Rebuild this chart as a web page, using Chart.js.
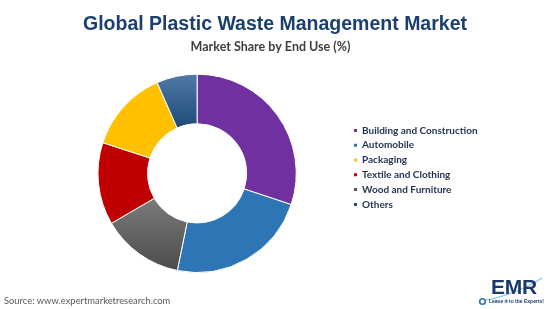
<!DOCTYPE html>
<html>
<head>
<meta charset="utf-8">
<script src="https://cdn.jsdelivr.net/npm/chart.js@4.4.1/dist/chart.umd.min.js"></script>
<style>
  html, body { margin: 0; padding: 0; background: #ffffff; }
  #wrap { position: relative; width: 550px; height: 309px; overflow: hidden; }
  #c { position: absolute; left: 0; top: 0; }
  #source { position: absolute; left: 4px; top: 295px; font: 9.4px Lato, "Open Sans", sans-serif; color: #595959; white-space: nowrap; }
  #logo { position: absolute; left: 478px; top: 276px; width: 72px; height: 33px; }
  #emr { position: absolute; left: 13px; top: -1px; font: bold 21px "Liberation Sans", Arial, sans-serif; color: #1B3A6B; letter-spacing: -0.3px; line-height: 24px; }
  #tag { position: absolute; left: 11px; top: 22px; font: bold 5px "Liberation Sans", Arial, sans-serif; color: #1B3A6B; white-space: nowrap; }
</style>
</head>
<body>
<div id="wrap">
  <canvas id="c" width="550" height="309"></canvas>
  <div id="source">Source: www.expertmarketresearch.com</div>
  <div id="logo">
    <svg width="72" height="33" style="position:absolute;left:0;top:0">
      <path d="M4 25 Q 40 18 64 2" stroke="#8fc3ea" stroke-width="1.2" fill="none"/>
      <circle cx="4.5" cy="25.5" r="2.8" stroke="#2E75B6" stroke-width="1.6" fill="#ffffff"/>
    </svg>
    <div id="emr">EMR</div>
    <div id="tag">Leave it to the Experts!</div>
  </div>
</div>
<script>
// ---- data ----
const categories = ['Building and Construction', 'Automobile', 'Wood and Furniture', 'Textile and Clothing', 'Packaging', 'Others'];
const shares = [30.1, 23.1, 13.4, 13.4, 13.4, 6.6];
const legendOrder = ['Building and Construction', 'Automobile', 'Packaging', 'Textile and Clothing', 'Wood and Furniture', 'Others'];
const titleText = 'Global Plastic Waste Management Market';
const subtitleText = 'Market Share by End Use (%)';

// ---- styles ----
const solidColors = ['#7030A0', '#2E75B6', '#666666', '#C00000', '#FFC000', '#2F5F8F'];
const gradientStops = {
  2: [[0.6, '#7e7e7e'], [1, '#4a4a4a']],
  5: [[0, '#5079a6'], [0.27, '#1E4B78']]
};

const legendFont = { family: 'Lato', size: 10, weight: 'bold' };
const legendBox = 3;
const legendPad = 4.8;
const legendBoxLeft = 354;
const padLeft = 45;

// measure widest legend label to place the legend
const mctx = document.createElement('canvas').getContext('2d');
mctx.font = 'bold ' + legendFont.size + 'px ' + legendFont.family;
let maxW = 0;
categories.forEach(t => { maxW = Math.max(maxW, mctx.measureText(t).width); });
const legendWidth = legendPad + legendBox + legendFont.size / 2 + maxW + 10;
const padRight = 550 - (legendBoxLeft - legendPad) - legendWidth;

function sliceColor(context) {
  const i = context.dataIndex;
  const chart = context.chart;
  const area = chart.chartArea;
  if (!area || !gradientStops[i]) return solidColors[i];
  const g = chart.ctx.createLinearGradient(0, area.top, 0, area.bottom);
  gradientStops[i].forEach(s => g.addColorStop(s[0], s[1]));
  return g;
}

// center the title across the whole canvas, subtitle slightly left (as in the reference)
const headerCenter = {
  id: 'headerCenter',
  afterLayout(chart) {
    chart.boxes.forEach(b => {
      if (b.position !== 'top' || !b.options || b.options.text === undefined) return;
      const half = b.options.text === titleText ? 275 : 270.5;
      b.left = half - 275; b.right = half + 275; b.width = 550;
    });
  }
};

new Chart(document.getElementById('c'), {
  type: 'doughnut',
  data: {
    labels: categories,
    datasets: [{
      data: shares,
      backgroundColor: sliceColor,
      borderColor: '#ffffff',
      borderWidth: 1
    }]
  },
  plugins: [headerCenter],
  options: {
    responsive: false,
    animation: false,
    cutout: '50%',
    layout: { padding: { left: padLeft, right: padRight, top: 0, bottom: 36 } },
    plugins: {
      tooltip: { enabled: false },
      title: {
        display: true,
        text: titleText,
        color: '#1B3F6F',
        font: { family: 'Liberation Sans', size: 19.5, weight: 'bold', lineHeight: 1.2 },
        padding: { top: 12.6, bottom: 0 }
      },
      subtitle: {
        display: true,
        text: subtitleText,
        color: '#3F3F3F',
        font: { family: 'Lato', size: 12.5, weight: 'bold', lineHeight: 1.2 },
        padding: { top: 3.6, bottom: 19.1 }
      },
      legend: {
        display: true,
        position: 'right',
        align: 'start',
        fullSize: false,
        title: { display: true, text: '', font: { size: 12, lineHeight: 1.2 }, padding: { top: 32.5, bottom: 0 } },
        labels: {
          font: legendFont,
          color: '#1F3050',
          boxWidth: legendBox,
          boxHeight: legendBox,
          padding: legendPad,
          sort: (a, b) => legendOrder.indexOf(a.text) - legendOrder.indexOf(b.text),
          generateLabels: (chart) => {
            const items = Chart.overrides.doughnut.plugins.legend.labels.generateLabels(chart);
            items.forEach(it => {
              const c = it.index === 2 ? '#5a5a5a' : (it.index === 5 ? '#1F4E79' : solidColors[it.index]);
              it.fillStyle = c;
              it.strokeStyle = c;
              it.lineWidth = 0;
            });
            return items;
          }
        }
      }
    }
  }
});
</script>
</body>
</html>
